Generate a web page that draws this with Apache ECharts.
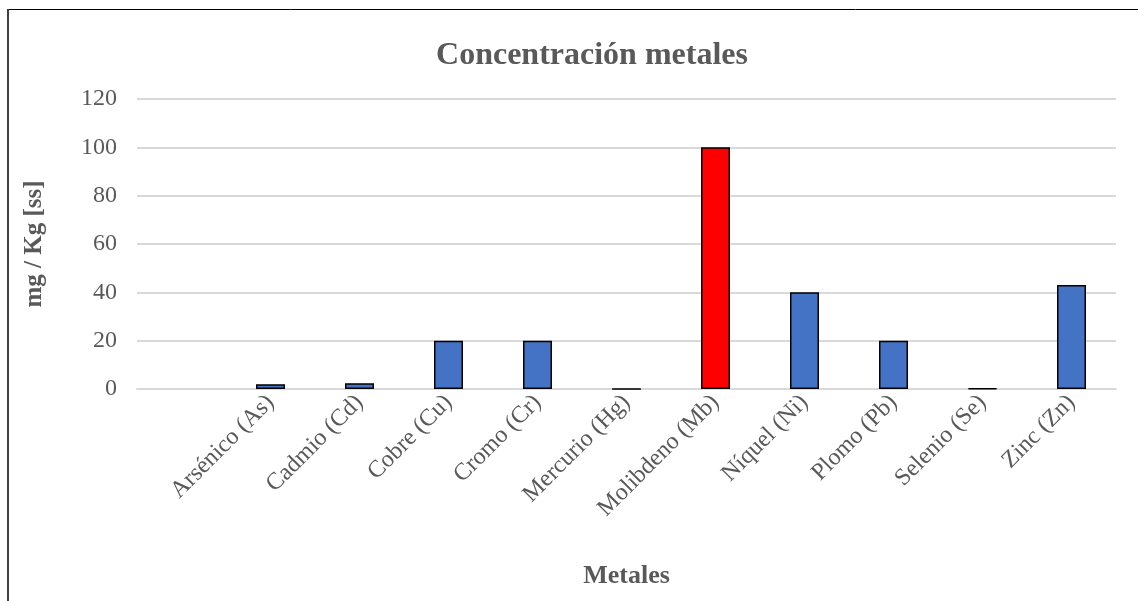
<!DOCTYPE html>
<html><head><meta charset="utf-8">
<script src="https://cdn.jsdelivr.net/npm/echarts@6/dist/echarts.min.js"></script>
<style>html,body{margin:0;padding:0;background:#fff}#c{width:1138px;height:601px}</style>
</head><body><div id="c"></div>
<script>
var categories = ['', 'Arsénico (As)', 'Cadmio (Cd)', 'Cobre (Cu)', 'Cromo (Cr)', 'Mercurio (Hg)', 'Molibdeno (Mb)', 'Níquel (Ni)', 'Plomo (Pb)', 'Selenio (Se)', 'Zinc (Zn)'];
var values = [null, 2, 2.4, 20, 20, 0.1, 100, 40, 20, 0.3, 43];
var highlightIndex = 6;
var yTicks = {min: 0, max: 120, interval: 20};

var font = '"Liberation Serif","Times New Roman",serif';
var chart = echarts.init(document.getElementById('c'), null, {renderer: 'canvas'});
chart.setOption({
  animation: false,
  backgroundColor: '#fff',
  title: {
    text: 'Concentración metales', left: 587, top: 35, textAlign: 'center',
    textStyle: {fontFamily: font, fontSize: 32, fontWeight: 'bold', color: '#595959'}
  },
  grid: {left: 137, right: 22, top: 99, bottom: 212, containLabel: false},
  xAxis: {
    type: 'category', data: categories,
    name: 'Metales', nameLocation: 'middle', nameGap: 174,
    nameTextStyle: {fontFamily: font, fontSize: 26, fontWeight: 'bold', color: '#595959'},
    axisLine: {lineStyle: {color: '#d9d9d9', width: 2}},
    axisTick: {show: false},
    axisLabel: {interval: 0, rotate: 45, margin: 10, fontFamily: font, fontSize: 24, color: '#595959'}
  },
  yAxis: {
    type: 'value', min: yTicks.min, max: yTicks.max, interval: yTicks.interval,
    name: 'mg / Kg [ss]', nameLocation: 'middle', nameGap: 90,
    nameTextStyle: {fontFamily: font, fontSize: 25, fontWeight: 'bold', color: '#595959'},
    axisLine: {show: false}, axisTick: {show: false},
    axisLabel: {margin: 20, fontFamily: font, fontSize: 24, color: '#595959'},
    splitLine: {lineStyle: {color: '#d9d9d9', width: 2}}
  },
  series: [{
    type: 'bar', barWidth: 29,
    data: values.map(function (v, i) {
      return {value: v, itemStyle: {color: i === highlightIndex ? '#FF0000' : '#4472C4', borderColor: '#000', borderWidth: 1.5}};
    })
  }],
  graphic: [
    {type: 'line', shape: {x1: 8, y1: 9.5, x2: 1138, y2: 9.5}, style: {stroke: '#000', lineWidth: 1}},
    {type: 'line', shape: {x1: 8, y1: 9, x2: 8, y2: 601}, style: {stroke: '#404040', lineWidth: 2}}
  ]
});
</script></body></html>
